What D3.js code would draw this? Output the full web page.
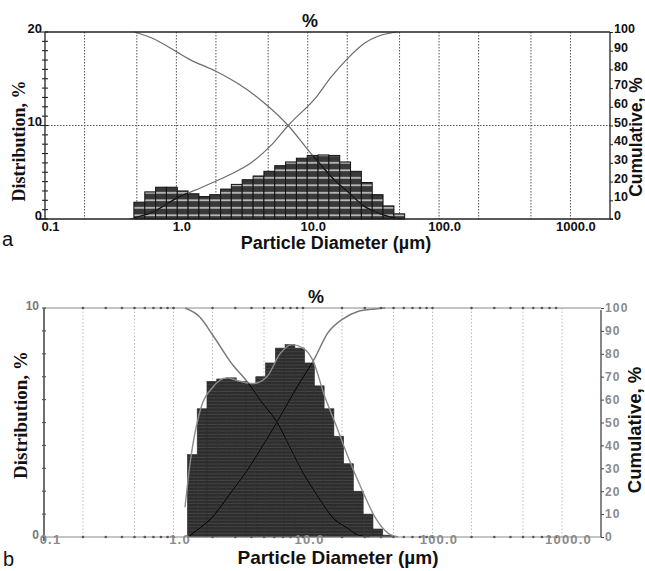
<!DOCTYPE html>
<html><head><meta charset="utf-8">
<script src="https://cdn.jsdelivr.net/npm/d3@7"></script>
<style>body{margin:0;background:#fff}</style>
</head><body><svg id="chart" width="645" height="571"></svg>
<script>
// ---------- Panel a: particle size distribution ----------
const binEdgesA = [0.475, 0.575, 0.695, 0.840, 1.016, 1.228, 1.485, 1.795, 2.17, 2.62, 3.17, 3.84, 4.64,
  5.61, 6.78, 8.20, 9.91, 11.98, 14.49, 17.52, 21.18, 25.6, 30.97, 37.44, 45.3, 54.7];
const distA = [1.8, 2.9, 3.4, 3.4, 3.0, 2.7, 2.4, 2.6, 3.2, 3.7, 4.2, 4.6, 5.1, 5.7, 6.1, 6.5, 6.8, 6.85,
  6.8, 6.1, 5.1, 3.9, 2.6, 1.4, 0.55];
const cumUnderA = [[0.44,0],[0.65,3.5],[1.0,11],[1.57,17],[2.52,23.5],[3.78,30.5],[5.37,40],[7.1,50],
  [11.7,65.5],[15.1,76],[19.6,85],[27,94],[36.5,98.4],[48,100]];
const cumOverA = [[0.48,100],[0.65,96.8],[1.0,89.5],[1.25,85.5],[2.0,79],[3.0,72],[4.5,63],[7.1,50],
  [10.3,36],[12.2,30],[15.9,21],[20.6,14],[26.7,7],[35,3],[48,0.3],[55,0]];

// ---------- Panel b: particle size distribution ----------
const binEdgesB = [1.281, 1.524, 1.813, 2.157, 2.566, 3.052, 3.631, 4.319, 5.137, 6.112, 7.27, 8.65,
  10.29, 12.24, 14.56, 17.32, 20.6, 24.5, 29.15, 34.7, 41.3, 49.1];
const distB = [3.6, 5.6, 6.8, 6.9, 6.95, 6.8, 6.7, 7.0, 7.6, 8.25, 8.4, 8.25, 7.6, 6.6, 5.6, 4.4, 3.2,
  2.0, 1.0, 0.35, 0.08];
const distCurveB = [[1.227,1.3],[1.341,3.2],[1.602,5.5],[2.018,6.55],[2.589,6.95],[3.26,6.8],[4.11,6.7],
  [5.27,7.0],[6.64,8.0],[8.22,8.4],[10.0,8.25],[11.94,7.7],[14.78,6.1],[17.66,5.0],[22.24,3.5],
  [28.56,2.05],[35.97,0.87],[45.3,0.17],[54.2,0]];
const cumOverB = [[1.227,100],[1.602,96],[2.018,88],[2.88,75],[3.69,68],[4.64,60],[6.32,50],[7.95,39],
  [10.0,28],[11.94,21],[17.66,7.5],[21.9,4],[26.2,1],[33,0]];
const cumUnderB = [[1.296,0],[1.417,1.7],[2.018,9],[2.74,19],[3.69,29],[6.12,49],[9.0,65.5],[12.3,78],
  [15.5,89],[20.1,95],[26.5,98.5],[36,99.6],[43.3,100]];

// ---------- Shared axis content ----------
const xTickValues = [0.1, 1, 10, 100, 1000];
const xTickLabels = ["0.1", "1.0", "10.0", "100.0", "1000.0"];
const gridValues = [0.2, 0.5, 1, 2, 5, 10, 20, 50, 100, 200, 500, 1000];
const minorLogValues = [0.2,0.3,0.4,0.5,0.6,0.7,0.8,0.9,1,2,3,4,5,6,7,8,9,10,20,30,40,50,60,70,80,90,
  100,200,300,400,500,600,700,800,900];
const cumTicks = [0, 10, 20, 30, 40, 50, 60, 70, 80, 90, 100];
const distTicksA = [0, 10, 20];
const distMinorA = [0,1,2,3,4,5,6,7,8,9,10,11,12,13,14,15,16,17,18,19,20];
const distTicksB = [0, 10];
const distMinorB = [0,1,2,3,4,5,6,7,8,9,10];

const SANS = "'Liberation Sans', Arial, Helvetica, sans-serif";
const SERIF = "'Liberation Serif', 'Times New Roman', serif";

const svg = d3.select("#chart");
const defs = svg.append("defs");

// Checkered fill for panel a bars: dark cells with pale horizontal rules
const patA = defs.append("pattern").attr("id", "fillA").attr("patternUnits", "userSpaceOnUse")
  .attr("x", 0).attr("y", 219 % 7.5).attr("width", 10).attr("height", 7.5);
patA.append("rect").attr("width", 10).attr("height", 7.5).attr("fill", "#383838");
patA.append("rect").attr("y", 3).attr("width", 10).attr("height", 1.6).attr("fill", "#c8c8c8");

// Dense dark fill for panel b bars with faint banding
const patB = defs.append("pattern").attr("id", "fillB").attr("patternUnits", "userSpaceOnUse")
  .attr("width", 10).attr("height", 3.3);
patB.append("rect").attr("width", 10).attr("height", 3.3).attr("fill", "#2c2c2c");
patB.append("rect").attr("y", 1.5).attr("width", 10).attr("height", 0.9).attr("fill", "#474747");

function lineGen(x, y) {
  return d3.line().x(d => x(d[0])).y(d => y(d[1])).curve(d3.curveMonotoneX);
}

// ================= Panel a =================
(function () {
  const L = 45, R = 610, T = 32, B = 219;
  const x = d3.scaleLog().domain([0.1, 2000]).range([L, R]);
  const yD = d3.scaleLinear().domain([0, 20]).range([B, T]);
  const yC = d3.scaleLinear().domain([0, 100]).range([B, T]);
  const g = svg.append("g");

  // dotted grid
  g.append("g").selectAll("line").data(gridValues).join("line")
    .attr("x1", d => x(d)).attr("x2", d => x(d)).attr("y1", T).attr("y2", B)
    .attr("stroke", "#555").attr("stroke-width", 1).attr("stroke-dasharray", "1.5,1.5");
  g.append("line").attr("x1", L).attr("x2", R).attr("y1", yD(10)).attr("y2", yD(10))
    .attr("stroke", "#555").attr("stroke-width", 1).attr("stroke-dasharray", "1.5,1.5");

  // histogram bars
  const bars = distA.map((v, i) => ({ x0: binEdgesA[i], x1: binEdgesA[i + 1], v }));
  g.append("g").selectAll("rect").data(bars).join("rect")
    .attr("x", d => x(d.x0)).attr("width", d => x(d.x1) - x(d.x0))
    .attr("y", d => yD(d.v)).attr("height", d => yD(0) - yD(d.v))
    .attr("fill", "url(#fillA)").attr("stroke", "#111").attr("stroke-width", 1);
  defs.append("clipPath").attr("id", "clipA").selectAll("rect").data(bars).join("rect")
    .attr("x", d => x(d.x0)).attr("width", d => x(d.x1) - x(d.x0))
    .attr("y", d => yD(d.v)).attr("height", d => yD(0) - yD(d.v));

  // cumulative curves
  const lc = lineGen(x, yC);
  [cumUnderA, cumOverA].forEach(s => {
    g.append("path").attr("d", lc(s)).attr("fill", "none").attr("stroke", "#6c6c6c").attr("stroke-width", 1.2);
    g.append("path").attr("d", lc(s)).attr("fill", "none").attr("stroke", "#111").attr("stroke-width", 1.3)
      .attr("clip-path", "url(#clipA)");
  });

  // frame
  g.append("line").attr("x1", L).attr("x2", R).attr("y1", T).attr("y2", T).attr("stroke", "#222").attr("stroke-width", 1.3);
  g.append("line").attr("x1", L - 6).attr("x2", R + 3).attr("y1", B).attr("y2", B).attr("stroke", "#222").attr("stroke-width", 1.3);
  g.append("line").attr("x1", L).attr("x2", L).attr("y1", T).attr("y2", B).attr("stroke", "#222").attr("stroke-width", 1.3);
  g.append("line").attr("x1", R).attr("x2", R).attr("y1", T).attr("y2", B).attr("stroke", "#222").attr("stroke-width", 1.3);

  // left minor ticks
  g.append("g").selectAll("line").data(distMinorA).join("line")
    .attr("x1", d => (d % 10 === 0 ? L - 5 : L - 3)).attr("x2", L + 3)
    .attr("y1", d => yD(d)).attr("y2", d => yD(d)).attr("stroke", "#222").attr("stroke-width", 1.1);

  // left axis labels
  const ax = g.append("g").attr("transform", `translate(${L},0)`)
    .call(d3.axisLeft(yD).tickValues(distTicksA).tickSize(0).tickPadding(3));
  ax.select(".domain").remove();
  ax.selectAll("text").attr("dy", "0").attr("font-family", SANS).attr("font-weight", "bold")
    .attr("font-size", 13).attr("fill", "#111");

  // right axis
  const axR = g.append("g").attr("transform", `translate(${R},0)`)
    .call(d3.axisRight(yC).tickValues(cumTicks).tickSize(3).tickPadding(1));
  axR.select(".domain").remove();
  axR.selectAll("line").attr("stroke", "#222");
  axR.selectAll("text").attr("dy", "0.05em").attr("font-family", SANS).attr("font-weight", "bold")
    .attr("font-size", 12.5).attr("fill", "#111");

  // bottom labels
  const axB = g.append("g").attr("transform", `translate(0,${B})`)
    .call(d3.axisBottom(x).tickValues(xTickValues).tickFormat((d, i) => xTickLabels[i]).tickSize(0).tickPadding(3));
  axB.select(".domain").remove();
  axB.selectAll("text").attr("dx", 5).attr("font-family", SANS).attr("font-weight", "bold")
    .attr("font-size", 13).attr("fill", "#111");

  // titles
  svg.append("text").attr("x", 310).attr("y", 27).attr("text-anchor", "middle")
    .attr("font-family", SANS).attr("font-weight", "bold").attr("font-size", 18).attr("fill", "#111").text("%");
  svg.append("text").attr("transform", "translate(25,141) rotate(-90)").attr("text-anchor", "middle")
    .attr("font-family", SERIF).attr("font-weight", "bold").attr("font-size", 18).attr("fill", "#111").text("Distribution, %");
  svg.append("text").attr("transform", "translate(641.5,137) rotate(-90)").attr("text-anchor", "middle")
    .attr("font-family", SANS).attr("font-weight", "bold").attr("font-size", 17.5).attr("fill", "#111").text("Cumulative, %");
  svg.append("text").attr("x", 336).attr("y", 249).attr("text-anchor", "middle")
    .attr("font-family", SANS).attr("font-weight", "bold").attr("font-size", 18).attr("fill", "#111").text("Particle Diameter (\u00b5m)");
  svg.append("text").attr("x", 2).attr("y", 246)
    .attr("font-family", SANS).attr("font-size", 20).attr("fill", "#111").text("a");
})();

// ================= Panel b =================
(function () {
  const L = 44, R = 601, T = 308, B = 537;
  const x = d3.scaleLog().domain([0.1, 2000]).range([L, R]);
  const yD = d3.scaleLinear().domain([0, 10]).range([B, T]);
  const yC = d3.scaleLinear().domain([0, 100]).range([B, T]);
  const g = svg.append("g");

  // light dotted grid
  g.append("g").selectAll("line").data(gridValues).join("line")
    .attr("x1", d => x(d)).attr("x2", d => x(d)).attr("y1", T).attr("y2", B)
    .attr("stroke", "#bdbdbd").attr("stroke-width", 1).attr("stroke-dasharray", "1.5,2");

  // histogram bars
  const bars = distB.map((v, i) => ({ x0: binEdgesB[i], x1: binEdgesB[i + 1], v }));
  g.append("g").selectAll("rect").data(bars).join("rect")
    .attr("x", d => x(d.x0)).attr("width", d => x(d.x1) - x(d.x0))
    .attr("y", d => yD(d.v)).attr("height", d => yD(0) - yD(d.v))
    .attr("fill", "url(#fillB)").attr("stroke", "#2c2c2c").attr("stroke-width", 0.6);
  defs.append("clipPath").attr("id", "clipB").selectAll("rect").data(bars).join("rect")
    .attr("x", d => x(d.x0) - 0.3).attr("width", d => x(d.x1) - x(d.x0) + 0.6)
    .attr("y", d => yD(d.v)).attr("height", d => yD(0) - yD(d.v));

  // smooth distribution outline
  g.append("path").attr("d", lineGen(x, yD)(distCurveB)).attr("fill", "none")
    .attr("stroke", "#8c8c8c").attr("stroke-width", 1.4);

  // cumulative curves
  const lc = lineGen(x, yC);
  [cumUnderB, cumOverB].forEach(s => {
    g.append("path").attr("d", lc(s)).attr("fill", "none").attr("stroke", "#7a7a7a").attr("stroke-width", 1.5);
    g.append("path").attr("d", lc(s)).attr("fill", "none").attr("stroke", "#0d0d0d").attr("stroke-width", 1.5)
      .attr("clip-path", "url(#clipB)");
  });

  // frame
  g.append("line").attr("x1", L).attr("x2", R).attr("y1", T).attr("y2", T).attr("stroke", "#8a8a8a").attr("stroke-width", 1.2);
  g.append("line").attr("x1", L).attr("x2", R).attr("y1", B).attr("y2", B).attr("stroke", "#8a8a8a").attr("stroke-width", 1.2);
  g.append("line").attr("x1", L).attr("x2", L).attr("y1", T).attr("y2", B + 4).attr("stroke", "#333").attr("stroke-width", 1.4);
  g.append("line").attr("x1", R).attr("x2", R).attr("y1", T + 2).attr("y2", B).attr("stroke", "#444").attr("stroke-width", 1.3);

  // log minor markers along top and bottom edges
  [T, B].forEach(yy => {
    g.append("g").selectAll("circle").data(minorLogValues).join("circle")
      .attr("cx", d => x(d)).attr("cy", yy).attr("r", 1.3).attr("fill", "#555");
  });

  // left minor ticks
  g.append("g").selectAll("line").data(distMinorB).join("line")
    .attr("x1", L - 2).attr("x2", L + 2)
    .attr("y1", d => yD(d)).attr("y2", d => yD(d)).attr("stroke", "#555").attr("stroke-width", 1.1);

  const ax = g.append("g").attr("transform", `translate(${L},0)`)
    .call(d3.axisLeft(yD).tickValues(distTicksB).tickSize(0).tickPadding(5));
  ax.select(".domain").remove();
  ax.selectAll("text").attr("dy", "0.1em").attr("font-family", SANS).attr("font-weight", "bold")
    .attr("font-size", 12).attr("fill", "#777");

  const axR = g.append("g").attr("transform", `translate(${R},0)`)
    .call(d3.axisRight(yC).tickValues(cumTicks).tickSize(3).tickPadding(1));
  axR.select(".domain").remove();
  axR.selectAll("line").attr("stroke", "#444");
  axR.selectAll("text").attr("dy", "0.32em").attr("font-family", SANS).attr("font-weight", "bold")
    .attr("font-size", 12).attr("letter-spacing", 1.2).attr("fill", "#8a8a8a");

  const axB = g.append("g").attr("transform", `translate(0,${B})`)
    .call(d3.axisBottom(x).tickValues(xTickValues).tickFormat((d, i) => xTickLabels[i]).tickSize(0).tickPadding(-2));
  axB.select(".domain").remove();
  axB.selectAll("text").attr("dx", 6).attr("font-family", SANS).attr("font-weight", "bold")
    .attr("font-size", 13).attr("letter-spacing", 1.2).attr("fill", "#8a8a8a");

  svg.append("text").attr("x", 316).attr("y", 303).attr("text-anchor", "middle")
    .attr("font-family", SANS).attr("font-weight", "bold").attr("font-size", 18).attr("fill", "#111").text("%");
  svg.append("text").attr("transform", "translate(27,415) rotate(-90)").attr("text-anchor", "middle")
    .attr("font-family", SERIF).attr("font-weight", "bold").attr("font-size", 19).attr("fill", "#111").text("Distribution, %");
  svg.append("text").attr("transform", "translate(641,430) rotate(-90)").attr("text-anchor", "middle")
    .attr("font-family", SANS).attr("font-weight", "bold").attr("font-size", 18.5).attr("fill", "#111").text("Cumulative, %");
  svg.append("text").attr("x", 338).attr("y", 564).attr("text-anchor", "middle")
    .attr("font-family", SANS).attr("font-weight", "bold").attr("font-size", 19).attr("fill", "#111").text("Particle Diameter (\u00b5m)");
  svg.append("text").attr("x", 3).attr("y", 566)
    .attr("font-family", SANS).attr("font-size", 20).attr("fill", "#111").text("b");
})();
</script>
</body></html>
